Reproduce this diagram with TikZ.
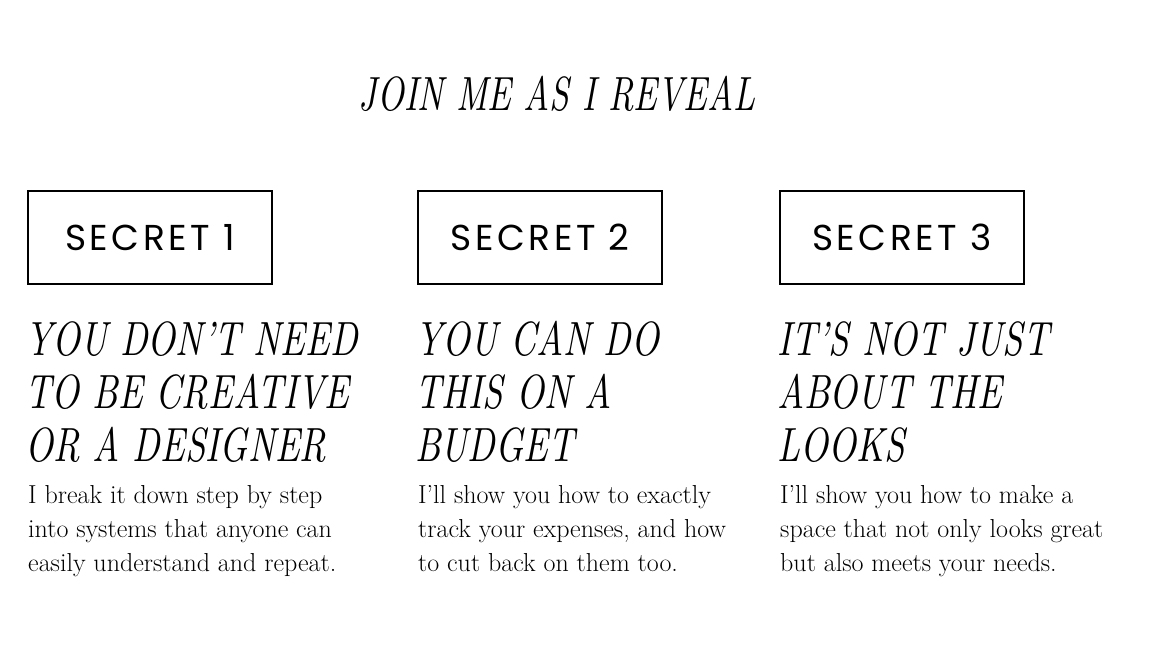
\documentclass[tikz,border=0pt]{standalone}
\usepackage{fontspec}
\newfontfamily\secretfont[LetterSpace=10]{Poppins}
\newfontfamily\titlefamily{lmroman10-italic.otf}[FakeStretch=0.73]
\newfontfamily\headfamily{lmroman10-italic.otf}[FakeStretch=0.76]
\newcommand\titlefont{\titlefamily\fontsize{48}{53}\selectfont}
\newcommand\headfont{\headfamily\fontsize{48}{53}\selectfont}
\newcommand\bodyfont{\fontsize{26}{34}\selectfont}
\begin{document}
\begin{tikzpicture}[x=1pt,y=-1pt,
	secretbox/.style={draw,line width=2pt,minimum width=244pt,minimum height=93pt,inner sep=0pt,font=\secretfont\fontsize{36}{36}\selectfont},
	headtext/.style={anchor=base west,inner sep=0pt,align=left,font=\headfont},
	bodytext/.style={anchor=base west,inner sep=0pt,align=left,font=\bodyfont}]
	\useasboundingbox (0,0) rectangle (1152,648);
	\node [anchor=base,inner sep=0pt,font=\titlefont] (title) at (557,110) {JOIN ME AS I REVEAL};
	\node [secretbox] (secret1) at (150,237.5) {SECRET 1};
	\node [secretbox] (secret2) at (540,237.5) {SECRET 2};
	\node [secretbox] (secret3) at (902,237.5) {SECRET 3};
	\node [headtext] (head1) at (25,461) {YOU DON’T NEED\\TO BE CREATIVE\\OR A DESIGNER};
	\node [headtext] (head2) at (415,461) {YOU CAN DO\\THIS ON A\\BUDGET};
	\node [headtext] (head3) at (777,461) {IT’S NOT JUST\\ABOUT THE\\LOOKS};
	\node [bodytext] (body1) at (28,571) {I break it down step by step\\into systems that anyone can\\easily understand and repeat.};
	\node [bodytext] (body2) at (418,571) {I’ll show you how to exactly\\track your expenses, and how\\to cut back on them too.};
	\node [bodytext] (body3) at (780,571) {I’ll show you how to make a\\space that not only looks great\\but also meets your needs.};
\end{tikzpicture}
\end{document}
